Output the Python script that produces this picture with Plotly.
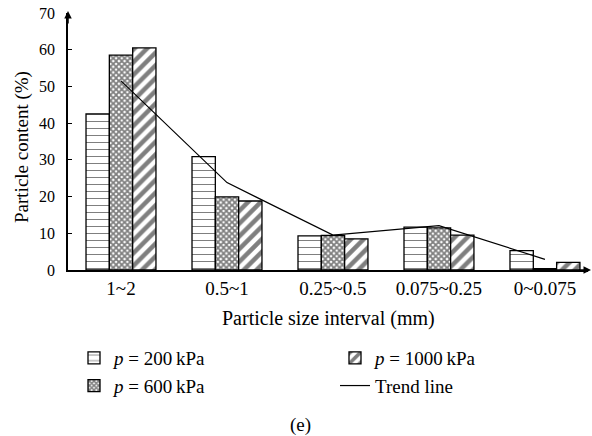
import plotly.graph_objects as go

categories = ["1~2", "0.5~1", "0.25~0.5", "0.075~0.25", "0~0.075"]
p200 = [42.5, 30.9, 9.3, 11.7, 5.3]
p600 = [58.5, 19.9, 9.4, 11.5, 0.4]
p1000 = [60.5, 18.8, 8.5, 9.5, 2.1]
trend = [51.5, 23.8, 9.5, 12.1, 2.9]
y_ticks = [0, 10, 20, 30, 40, 50, 60, 70]

xpos = list(range(len(categories)))

FONT = "Liberation Serif"
fig = go.Figure()

def bar(name, vals, shape, size, solid, rank):
    fig.add_trace(go.Bar(
        x=xpos, y=vals, name=name, legendrank=rank,
        marker=dict(color="white", line=dict(color="black", width=1.3),
                    pattern=dict(shape=shape, fgcolor="black", bgcolor="white",
                                 size=size, solidity=solid)),
    ))

bar("<i>p</i> = 200\u2009kPa", p200, "-", 7, 0.15, 1)
bar("<i>p</i> = 600\u2009kPa", p600, "x", 4, 0.7, 3)
bar("<i>p</i> = 1000\u2009kPa", p1000, "/", 9, 0.5, 2)
fig.add_trace(go.Scatter(x=xpos, y=trend, mode="lines", name="Trend line",
                         line=dict(color="black", width=1.2), legendrank=4))

L, R, T, B = 68, 4, 13, 166
W, H = 592, 436
pw, ph = W - L - R, H - T - B
def px(x):
    return (x - L) / pw
def py(y):
    return (H - B - y) / ph

fig.update_layout(
    width=W, height=H, margin=dict(l=L, r=R, t=T, b=B, autoexpand=False),
    plot_bgcolor="white", paper_bgcolor="white",
    font=dict(family=FONT, size=19, color="black"),
    barmode="group", bargap=0.34, bargroupgap=0,
    xaxis=dict(range=[-0.5, 4.406], tickvals=xpos, ticktext=categories,
               showline=True, linecolor="black", linewidth=1.5, showgrid=False,
               zeroline=False, ticks="", tickfont=dict(size=19), automargin=False),
    yaxis=dict(range=[0, 70], tickvals=y_ticks, showline=True, linecolor="black",
               linewidth=1.5, showgrid=False, zeroline=False, ticks="inside",
               ticklen=4, tickcolor="black", tickfont=dict(size=16),
               ticklabelstandoff=8, automargin=False),
    legend=dict(orientation="h", xref="container", yref="container",
                x=74 / W, y=1 - 339 / H, xanchor="left", yanchor="top",
                entrywidth=216, entrywidthmode="pixels", font=dict(size=19),
                bgcolor="rgba(0,0,0,0)"),
    showlegend=True,
)

fig.add_annotation(text="Particle content (%)", xref="paper", yref="paper",
                   x=px(22), y=py(147), textangle=-90, showarrow=False,
                   xanchor="center", yanchor="middle", font=dict(size=19))
fig.add_annotation(text="Particle size interval (mm)", xref="paper", yref="paper",
                   x=px(328), y=py(318), showarrow=False,
                   xanchor="center", yanchor="middle", font=dict(size=20))
fig.add_annotation(text="(e)", xref="paper", yref="paper",
                   x=px(300), y=py(425), showarrow=False,
                   xanchor="center", yanchor="middle", font=dict(size=19))
# axis arrows
fig.add_annotation(xref="paper", yref="paper", x=0, y=py(11), ax=0, ay=14,
                   showarrow=True, arrowhead=2, arrowsize=1, arrowwidth=1.5,
                   arrowcolor="black", text="")
fig.add_annotation(xref="paper", yref="paper", x=px(591), y=0, ax=-14, ay=0,
                   showarrow=True, arrowhead=2, arrowsize=1, arrowwidth=1.5,
                   arrowcolor="black", text="")

fig.write_html("out.html", config={"displayModeBar": False},
               post_script="document.body.style.margin='0px';")
